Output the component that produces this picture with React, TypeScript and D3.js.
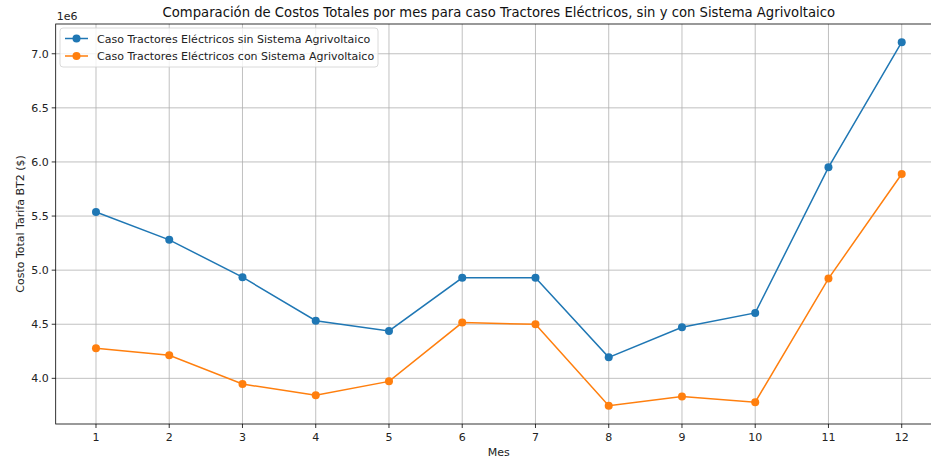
import React, { useEffect, useRef } from 'react'
import * as d3 from 'd3'

// meses y costos (en millones, eje 1e6)
const months = [1, 2, 3, 4, 5, 6, 7, 8, 9, 10, 11, 12]
const sinAgrivoltaico = [5.537, 5.28, 4.935, 4.533, 4.438, 4.929, 4.929, 4.194, 4.472, 4.605, 5.95, 7.107]
const conAgrivoltaico = [4.278, 4.213, 3.947, 3.843, 3.972, 4.515, 4.5, 3.746, 3.833, 3.78, 4.922, 5.889]
const yTicks = [4.0, 4.5, 5.0, 5.5, 6.0, 6.5, 7.0]
const seriesNames = [
  'Caso Tractores Eléctricos sin Sistema Agrivoltaico',
  'Caso Tractores Eléctricos con Sistema Agrivoltaico',
]
const colors = ['#1f77b4', '#ff7f0e']

const W = 931
const H = 460
const FONT = 'DejaVu Sans, sans-serif'

export default function App() {
  const ref = useRef<SVGSVGElement>(null)

  useEffect(() => {
    if (!ref.current) return
    const svg = d3.select(ref.current)
    svg.selectAll('*').remove()

    const left = 55.7
    const top = 24
    const bottom = 424
    const right = 942

    // matplotlib: 5% de margen
    const x = d3.scaleLinear().domain([0.45, 12.55]).range([left, right])
    const allVals = sinAgrivoltaico.concat(conAgrivoltaico)
    const lo = d3.min(allVals)!
    const hi = d3.max(allVals)!
    const pad = (hi - lo) * 0.05
    const y = d3.scaleLinear().domain([lo - pad, hi + pad]).range([bottom, top])

    const g = svg.append('g')

    // grid
    months.forEach(m => {
      g.append('line')
        .attr('x1', x(m)).attr('x2', x(m))
        .attr('y1', top).attr('y2', bottom)
        .attr('stroke', '#b0b0b0').attr('stroke-width', 0.8)
    })
    yTicks.forEach(t => {
      g.append('line')
        .attr('x1', left).attr('x2', right)
        .attr('y1', y(t)).attr('y2', y(t))
        .attr('stroke', '#b0b0b0').attr('stroke-width', 0.8)
    })

    // lineas
    const series = [sinAgrivoltaico, conAgrivoltaico]
    const line = d3.line<number>().x((_, i) => x(months[i])).y(d => y(d))
    series.forEach((vals, si) => {
      g.append('path')
        .attr('d', line(vals))
        .attr('fill', 'none')
        .attr('stroke', colors[si])
        .attr('stroke-width', 1.5)
      g.selectAll(null)
        .data(vals)
        .enter()
        .append('circle')
        .attr('cx', (_, i) => x(months[i]))
        .attr('cy', d => y(d))
        .attr('r', 4)
        .attr('fill', colors[si])
    })

    // ejes
    g.append('rect')
      .attr('x', left).attr('y', top)
      .attr('width', right - left).attr('height', bottom - top)
      .attr('fill', 'none').attr('stroke', '#000').attr('stroke-width', 0.8)

    months.forEach(m => {
      g.append('line')
        .attr('x1', x(m)).attr('x2', x(m))
        .attr('y1', bottom).attr('y2', bottom + 4)
        .attr('stroke', '#000').attr('stroke-width', 0.8)
      g.append('text')
        .attr('x', x(m)).attr('y', bottom + 16.5)
        .attr('text-anchor', 'middle')
        .attr('font-size', 11).attr('font-family', FONT).attr('fill', '#222')
        .text(m)
    })
    yTicks.forEach(t => {
      g.append('line')
        .attr('x1', left - 4).attr('x2', left)
        .attr('y1', y(t)).attr('y2', y(t))
        .attr('stroke', '#000').attr('stroke-width', 0.8)
      g.append('text')
        .attr('x', left - 7).attr('y', y(t) + 4)
        .attr('text-anchor', 'end')
        .attr('font-size', 11).attr('font-family', FONT).attr('fill', '#222')
        .text(t.toFixed(1))
    })

    g.append('text')
      .attr('x', left + 1).attr('y', top - 4)
      .attr('font-size', 11).attr('font-family', FONT).attr('fill', '#222')
      .text('1e6')

    g.append('text')
      .attr('x', (left + right) / 2).attr('y', 456)
      .attr('text-anchor', 'middle')
      .attr('font-size', 11).attr('font-family', FONT).attr('fill', '#222')
      .text('Mes')

    g.append('text')
      .attr('transform', `translate(23.5,${(top + bottom) / 2}) rotate(-90)`)
      .attr('text-anchor', 'middle')
      .attr('font-size', 11).attr('font-family', FONT).attr('fill', '#222')
      .text('Costo Total Tarifa BT2 ($)')

    g.append('text')
      .attr('x', (left + right) / 2).attr('y', 17)
      .attr('text-anchor', 'middle')
      .attr('font-size', 13.2).attr('font-family', FONT).attr('fill', '#111')
      .text('Comparación de Costos Totales por mes para caso Tractores Eléctricos, sin y con Sistema Agrivoltaico')

    // leyenda
    const lg = g.append('g')
    lg.append('rect')
      .attr('x', 60).attr('y', 28).attr('width', 318).attr('height', 39)
      .attr('rx', 3)
      .attr('fill', 'rgba(255,255,255,0.8)').attr('stroke', '#d0d0d0').attr('stroke-width', 0.8)
    seriesNames.forEach((name, i) => {
      const cy = 38.5 + i * 17.5
      lg.append('line')
        .attr('x1', 65).attr('x2', 88).attr('y1', cy).attr('y2', cy)
        .attr('stroke', colors[i]).attr('stroke-width', 1.5)
      lg.append('circle').attr('cx', 76.5).attr('cy', cy).attr('r', 4).attr('fill', colors[i])
      lg.append('text')
        .attr('x', 97).attr('y', cy + 4)
        .attr('font-size', 11).attr('font-family', FONT).attr('fill', '#222')
        .text(name)
    })
  }, [])

  return (
    <svg
      ref={ref}
      width={W}
      height={H}
      style={{ position: 'absolute', left: 0, top: 0, background: '#fff' }}
    />
  )
}
